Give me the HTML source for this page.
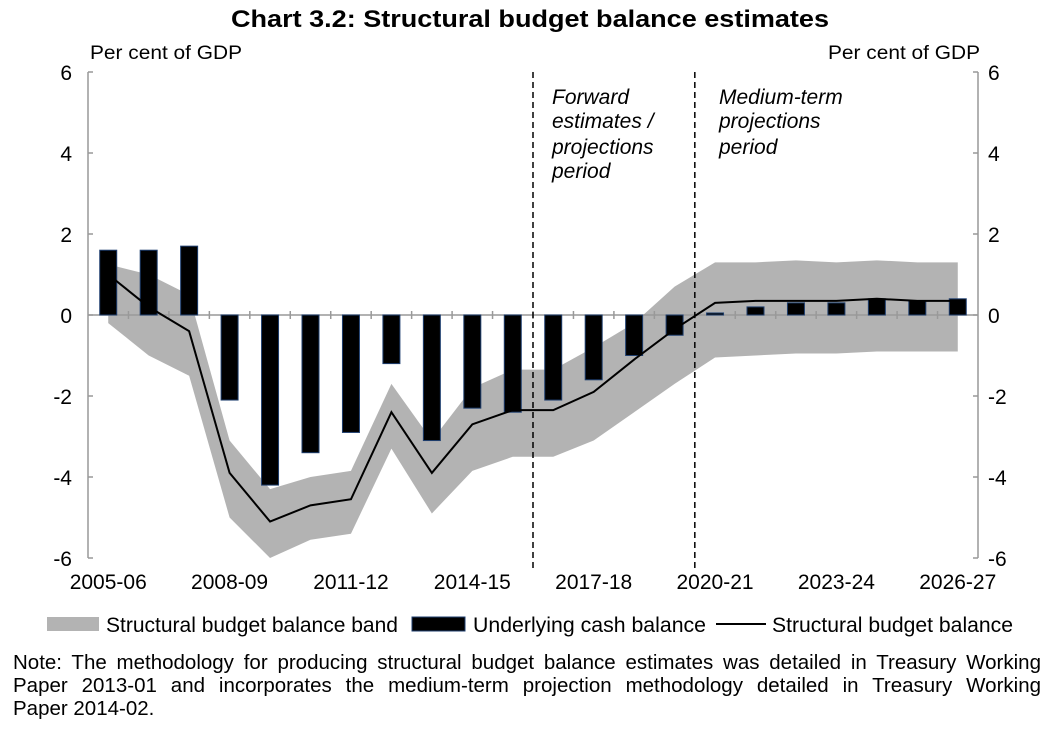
<!DOCTYPE html>
<html><head><meta charset="utf-8"><style>
body{margin:0;background:#fff;font-family:"Liberation Sans",Arial,sans-serif}
svg text{font-family:"Liberation Sans",Arial,sans-serif}
.note{position:absolute;left:13px;top:651px;width:1028px;font-size:20.5px;line-height:23px;color:#000}
.note div{text-align:justify;text-align-last:justify;white-space:nowrap}
.note div.last{text-align-last:left}
</style></head><body>
<svg id="chart" width="1061" height="733" style="position:absolute;left:0;top:0">
<text x="231" y="27" font-size="24" font-weight="bold" textLength="598" lengthAdjust="spacingAndGlyphs">Chart 3.2: Structural budget balance estimates</text>
<text x="90" y="59" font-size="19" textLength="152" lengthAdjust="spacingAndGlyphs">Per cent of GDP</text>
<text x="828" y="59" font-size="19" textLength="152" lengthAdjust="spacingAndGlyphs">Per cent of GDP</text>
<g id="plot"></g>
<text font-size="21" font-style="italic"><tspan x="552" y="104">Forward</tspan><tspan x="552" y="128">estimates /</tspan><tspan x="552" y="154">projections</tspan><tspan x="552" y="178">period</tspan></text>
<text font-size="21" font-style="italic"><tspan x="719" y="104">Medium-term</tspan><tspan x="719" y="128">projections</tspan><tspan x="719" y="154">period</tspan></text>
<g>
<rect x="47" y="617" width="52" height="14" fill="#b3b3b3"/>
<text x="106" y="632" font-size="21" textLength="292" lengthAdjust="spacingAndGlyphs">Structural budget balance band</text>
<rect x="412" y="617" width="53" height="14" fill="#000" stroke="#1f3f6f" stroke-width="1"/>
<text x="473" y="632" font-size="21" textLength="233" lengthAdjust="spacingAndGlyphs">Underlying cash balance</text>
<line x1="716" y1="624" x2="766" y2="624" stroke="#000" stroke-width="2"/>
<text x="772" y="632" font-size="21" textLength="241" lengthAdjust="spacingAndGlyphs">Structural budget balance</text>
</g>
</svg>
<div class="note">
<div>Note: The methodology for producing structural budget balance estimates was detailed in Treasury Working</div>
<div>Paper 2013-01 and incorporates the medium-term projection methodology detailed in Treasury Working</div>
<div class="last">Paper 2014-02.</div>
</div>
<script>
const categories=["2005-06","2006-07","2007-08","2008-09","2009-10","2010-11","2011-12","2012-13","2013-14","2014-15","2015-16","2016-17","2017-18","2018-19","2019-20","2020-21","2021-22","2022-23","2023-24","2024-25","2025-26","2026-27"];
const cashBalance=[1.6,1.6,1.7,-2.1,-4.2,-3.4,-2.9,-1.2,-3.1,-2.3,-2.4,-2.1,-1.6,-1.0,-0.5,0.05,0.2,0.3,0.3,0.4,0.35,0.4];
const structuralBalance=[1.0,0.2,-0.4,-3.9,-5.1,-4.7,-4.55,-2.4,-3.9,-2.7,-2.35,-2.35,-1.9,-1.1,-0.35,0.3,0.35,0.35,0.35,0.4,0.35,0.35];
const bandUpper=[1.25,1.0,0.5,-3.1,-4.3,-4.0,-3.85,-1.7,-3.1,-1.8,-1.35,-1.35,-0.8,-0.2,0.7,1.3,1.3,1.35,1.3,1.35,1.3,1.3];
const bandLower=[-0.2,-1.0,-1.5,-5.0,-6.0,-5.55,-5.4,-3.3,-4.9,-3.85,-3.5,-3.5,-3.1,-2.4,-1.7,-1.05,-1.0,-0.95,-0.95,-0.9,-0.9,-0.9];
const yTicks=[6,4,2,0,-2,-4,-6];
const xLabelIdx=[0,3,6,9,12,15,18,21];
const dividerIdx=[11,15];

const NS="http://www.w3.org/2000/svg";
const g=document.getElementById('plot');
const L=88,R=978,T=72,B=558,n=categories.length,bw=(R-L)/n;
const y=v=>T+(6-v)/12*(B-T);
const xc=i=>L+bw*(i+0.5);
const xb=i=>L+bw*i;
function mk(t,a){const e=document.createElementNS(NS,t);for(const k in a)e.setAttribute(k,a[k]);g.appendChild(e);return e;}
let pts=categories.map((c,i)=>xc(i)+','+y(bandUpper[i]));
for(let i=n-1;i>=0;i--)pts.push(xc(i)+','+y(bandLower[i]));
let band=mk('polygon',{points:pts.join(' '),fill:'#b3b3b3'});


let ax=mk('line',{x1:L,y1:T,x2:L,y2:B,stroke:'#999','stroke-width':1.5});


let ax2=mk('line',{x1:R,y1:T,x2:R,y2:B,stroke:'#999','stroke-width':1.5});


let z=mk('line',{x1:L,y1:y(0),x2:R,y2:y(0),stroke:'#999','stroke-width':1.5});


for(let i=1;i<n;i++){let t=mk('line',{x1:xb(i),y1:y(0)-4,x2:xb(i),y2:y(0)+4,stroke:'#999','stroke-width':1.5});

}
yTicks.forEach(v=>{
 let t1=mk('line',{x1:L,y1:y(v),x2:L+5,y2:y(v),stroke:'#999','stroke-width':1.5});
 
 
 let t2=mk('line',{x1:R-5,y1:y(v),x2:R,y2:y(v),stroke:'#999','stroke-width':1.5});
 
 
 let l=mk('text',{x:L-16,y:y(v)+8,'text-anchor':'end','font-size':21});l.textContent=v;
 
 
 let r=mk('text',{x:R+10,y:y(v)+8,'font-size':21});r.textContent=v;
 
 
});
cashBalance.forEach((v,i)=>{
 let r=mk('rect',{x:xc(i)-8.5,y:Math.min(y(v),y(0)),width:17,height:Math.max(Math.abs(y(v)-y(0)),1),fill:'#000',stroke:'#1f3f6f','stroke-width':1});
 
 
});
let lp=mk('polyline',{points:structuralBalance.map((v,i)=>xc(i)+','+y(v)).join(' '),fill:'none',stroke:'#000','stroke-width':2});


dividerIdx.forEach(i=>{let d=mk('line',{x1:xb(i),y1:T,x2:xb(i),y2:B+10,stroke:'#000','stroke-width':1.5,'stroke-dasharray':'6,4'});
 
 });
xLabelIdx.forEach(i=>{let t=mk('text',{x:xc(i),y:589,'text-anchor':'middle','font-size':21});t.textContent=categories[i];
 
 });
</script>
</body></html>
